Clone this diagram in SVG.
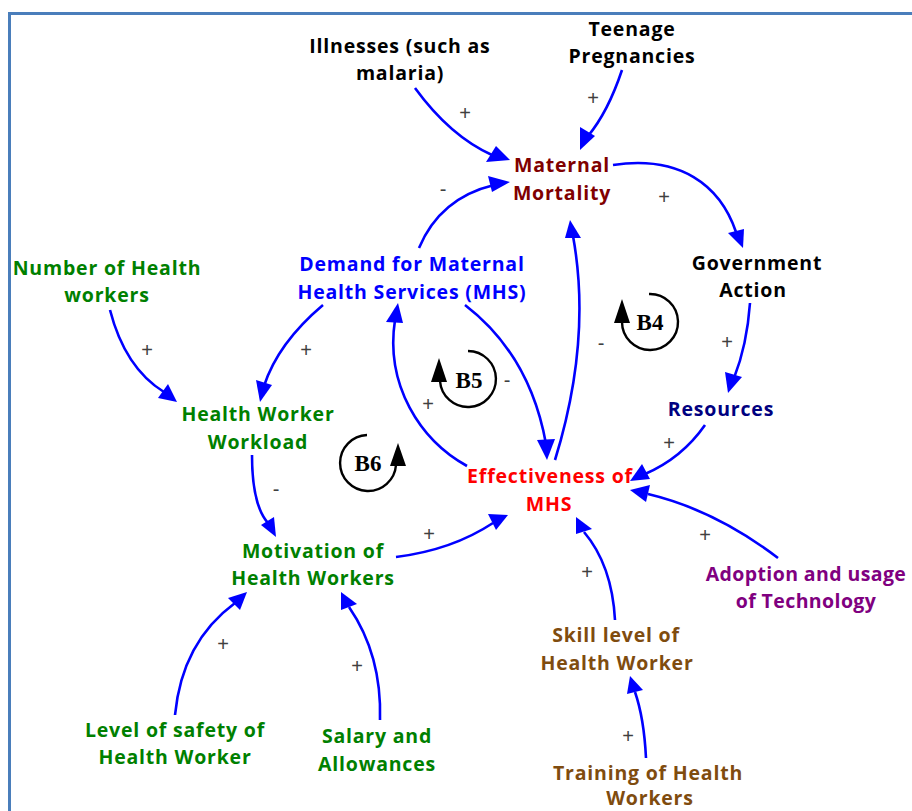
<svg xmlns="http://www.w3.org/2000/svg" width="912" height="811" viewBox="0 0 912 811">
<defs>
<style>
.n{font-family:"Open Sans","Liberation Sans",sans-serif;font-weight:bold;font-size:19.5px;text-anchor:middle;letter-spacing:0.8px}
.c{fill:none;stroke:#0000ff;stroke-width:2.6}
.p{font-family:"Liberation Sans",sans-serif;font-size:20px;fill:#404040;text-anchor:middle}
.lp{fill:none;stroke:#000;stroke-width:2.4}
.lt{font-family:"Liberation Serif",serif;font-weight:bold;font-size:23px;text-anchor:middle}
</style>
</defs>
<rect width="912" height="811" fill="#fff"/>
<path d="M9.5,811 V13.5 H912" fill="none" stroke="#4a7ebb" stroke-width="3"/>

<g id="connectors">
<g>
<path class="c" d="M415,88 Q450,136 492,155"/>
<path class="c" d="M622,70 Q608,112 588,136"/>
<path class="c" d="M613,165 C680,155 720,185 736,232"/>
<path class="c" d="M750,303 Q747,345 734,378"/>
<path class="c" d="M705,425 Q682,458 645,474"/>
<path class="c" d="M778,558 Q715,510 648,494"/>
<path class="c" d="M615,620 Q612,565 584,532"/>
<path class="c" d="M646,758 Q644,718 635,692"/>
<path class="c" d="M555,460 Q592,340 573,236"/>
<path class="c" d="M465,305 Q530,355 546,444"/>
<path class="c" d="M467,466 C420,440 385,385 395,320"/>
<path class="c" d="M419,248 Q440,198 494,185"/>
<path class="c" d="M323,305 Q278,343 264,386"/>
<path class="c" d="M110,310 Q125,368 164,392"/>
<path class="c" d="M252,455 Q252,505 268,523"/>
<path class="c" d="M396,557 Q452,550 493,523"/>
<path class="c" d="M175,715 Q182,642 235,603"/>
<path class="c" d="M380,720 Q382,655 349,607"/>
</g>
<g fill="#0000ff">
<polygon points="510,160 486,162 496,146"/>
<polygon points="580,150 580,127 595,136"/>
<polygon points="743,248 728,233 744,229"/>
<polygon points="728,393 725,372 742,377"/>
<polygon points="630,481 642,464 650,479"/>
<polygon points="630,490 650,485 646,502"/>
<polygon points="576,517 592,529 576,534"/>
<polygon points="630,676 643,690 627,694"/>
<polygon points="570,220 581,238 565,238"/>
<polygon points="547,460 537,440 555,439"/>
<polygon points="398,303 403,323 386,322"/>
<polygon points="510,182 492,192 488,176"/>
<polygon points="260,402 256,380 272,385"/>
<polygon points="177,402 158,398 168,384"/>
<polygon points="276,537 261,525 274,517"/>
<polygon points="508,515 496,530 488,514"/>
<polygon points="247,592 240,610 228,598"/>
<polygon points="341,592 357,604 341,610"/>
</g>
</g>

<g id="polarities">
<text class="p" x="465" y="120">+</text>
<text class="p" x="593" y="105">+</text>
<text class="p" x="443" y="196">-</text>
<text class="p" x="664" y="204">+</text>
<text class="p" x="147" y="357">+</text>
<text class="p" x="306" y="357">+</text>
<text class="p" x="727" y="349">+</text>
<text class="p" x="601" y="350">-</text>
<text class="p" x="507" y="387">-</text>
<text class="p" x="428" y="411">+</text>
<text class="p" x="669" y="450">+</text>
<text class="p" x="276" y="496">-</text>
<text class="p" x="429" y="541">+</text>
<text class="p" x="705" y="542">+</text>
<text class="p" x="587" y="579">+</text>
<text class="p" x="223" y="651">+</text>
<text class="p" x="357" y="673">+</text>
<text class="p" x="628" y="743">+</text>
</g>

<g id="loopB4">
<path class="lp" d="M649,294 A28,28 0 1 1 622,322"/>
<polygon points="622,299 614,323 630,323" fill="#000"/>
<text class="lt" x="650" y="330">B4</text>
</g>
<g id="loopB5">
<path class="lp" d="M468,351 A28,28 0 1 1 440,381"/>
<polygon points="439,358 431,382 447,382" fill="#000"/>
<text class="lt" x="469" y="388">B5</text>
</g>
<g id="loopB6">
<path class="lp" d="M367,435 A28,28 0 1 0 396,465"/>
<polygon points="398,443 390,466 406,466" fill="#000"/>
<text class="lt" x="368" y="471">B6</text>
</g>

<g id="illnesses"><text class="n" fill="#000"><tspan x="400" y="53">Illnesses (such as</tspan><tspan x="400" y="80">malaria)</tspan></text></g>
<g id="teenage"><text class="n" fill="#000"><tspan x="632" y="36">Teenage</tspan><tspan x="632" y="63">Pregnancies</tspan></text></g>
<g id="maternal"><text class="n" fill="#800000"><tspan x="562" y="172">Maternal</tspan><tspan x="562" y="200">Mortality</tspan></text></g>
<g id="government"><text class="n" fill="#000"><tspan x="757" y="270">Government</tspan><tspan x="753" y="297">Action</tspan></text></g>
<g id="numberHW"><text class="n" fill="#008000"><tspan x="107" y="275">Number of Health</tspan><tspan x="107" y="302">workers</tspan></text></g>
<g id="demand"><text class="n" fill="#0000ff"><tspan x="412" y="271">Demand for Maternal</tspan><tspan x="412" y="299">Health Services (MHS)</tspan></text></g>
<g id="workload"><text class="n" fill="#008000"><tspan x="258" y="421">Health Worker</tspan><tspan x="258" y="449">Workload</tspan></text></g>
<g id="resources"><text class="n" fill="#000080"><tspan x="721" y="416">Resources</tspan></text></g>
<g id="effectiveness"><text class="n" fill="#ff0000"><tspan x="550" y="483">Effectiveness of</tspan><tspan x="549" y="511">MHS</tspan></text></g>
<g id="motivation"><text class="n" fill="#008000"><tspan x="313" y="558">Motivation of</tspan><tspan x="313" y="585">Health Workers</tspan></text></g>
<g id="adoption"><text class="n" fill="#800080" style="letter-spacing:0.4px"><tspan x="806" y="581">Adoption and usage</tspan><tspan x="806" y="608">of Technology</tspan></text></g>
<g id="skill"><text class="n" fill="#7f4c0f"><tspan x="616" y="642">Skill level of</tspan><tspan x="617" y="670">Health Worker</tspan></text></g>
<g id="safety"><text class="n" fill="#008000"><tspan x="175" y="737">Level of safety of</tspan><tspan x="175" y="764">Health Worker</tspan></text></g>
<g id="salary"><text class="n" fill="#008000"><tspan x="377" y="743">Salary and</tspan><tspan x="377" y="771">Allowances</tspan></text></g>
<g id="training"><text class="n" fill="#7f4c0f"><tspan x="648" y="780">Training of Health</tspan><tspan x="650" y="805">Workers</tspan></text></g>
</svg>
